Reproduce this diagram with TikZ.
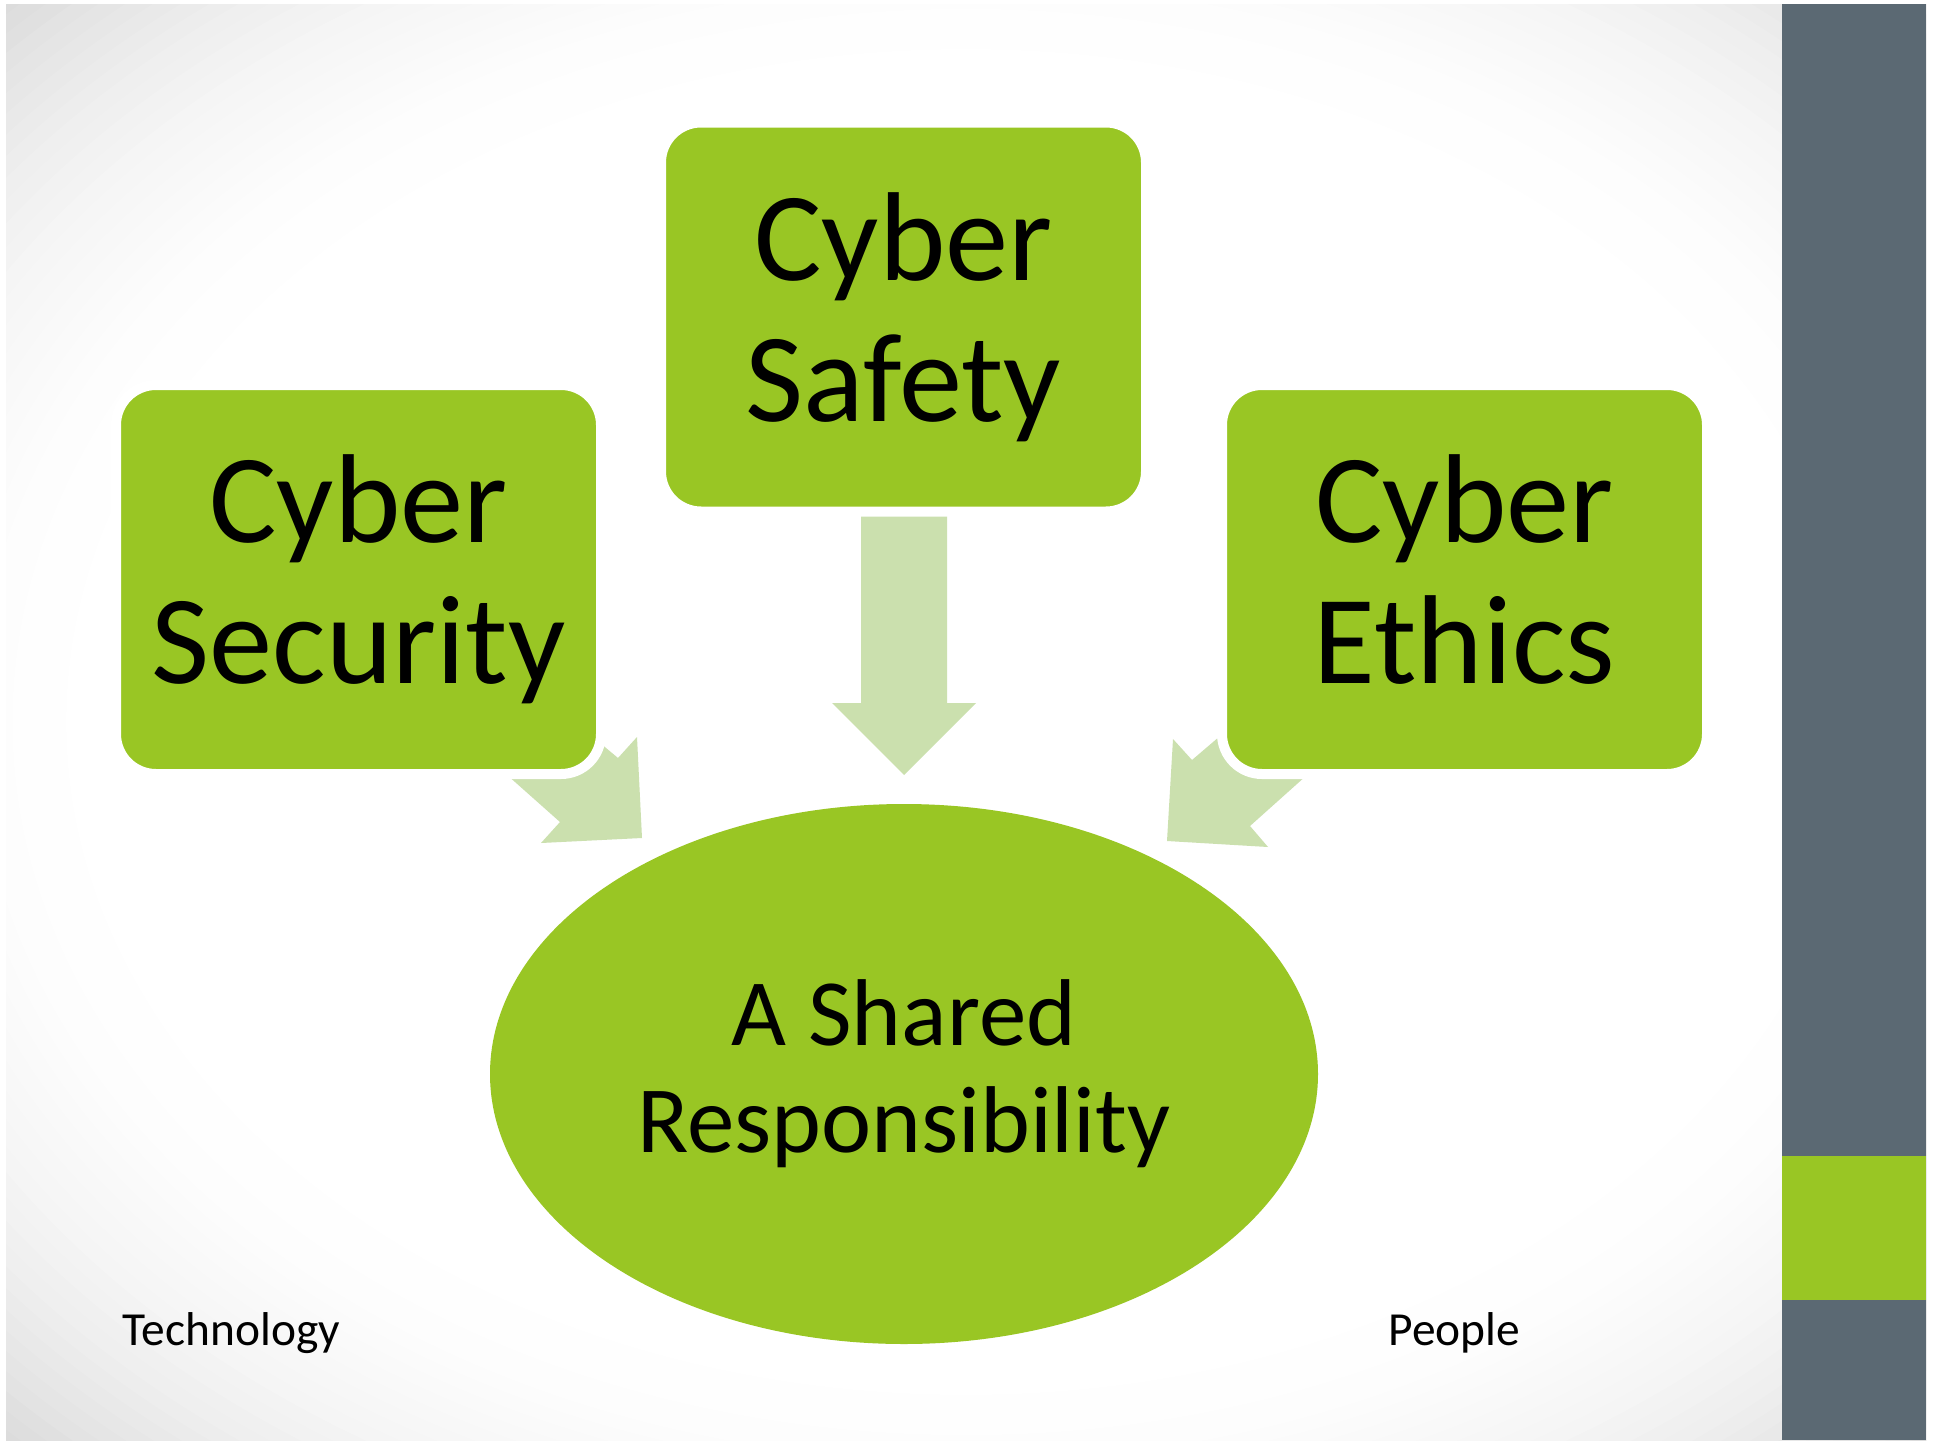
\documentclass[tikz,border=0pt]{standalone}
\usepackage{fontspec}
\setmainfont{Carlito}
\usetikzlibrary{shapes.geometric}

\definecolor{limegreen}{HTML}{99C624}
\definecolor{palegreen}{HTML}{CBE0AE}
\definecolor{slate}{HTML}{5B6973}

\begin{document}
\begin{tikzpicture}[
        x=0.1mm, y=-0.1mm,
        topic/.style={rectangle, rounded corners=4mm, fill=limegreen, draw=white, line width=1mm,
            minimum width=48.5mm, minimum height=38.9mm, inner sep=0pt, align=center,
            font=\fontsize{36}{40}\selectfont,
            execute at begin node={\rule{0pt}{30pt}}, execute at end node={\vphantom{y}}},
        hub/.style={ellipse, fill=limegreen, minimum width=82.8mm, minimum height=54mm,
            inner sep=0pt, align=center, font=\fontsize{27}{30.5}\selectfont,
            execute at begin node={\rule{0pt}{27pt}}},
        blockarrow/.style={fill=palegreen},
        caption/.style={anchor=base west, inner sep=0pt, font=\fontsize{13.5}{16}\selectfont}]
    \useasboundingbox (0,0) rectangle (1938,1442);
    % slide background (soft grey corners) and side bar
    \begin{scope}
        \clip (6,4) rectangle (1926,1440);
        \foreach \k in {0,...,30} {
            \pgfmathsetmacro\rad{1.46-0.56*\k/30}
            \pgfmathsetmacro\tone{16*(1-\k/30)^2}
            \fill[black!\tone] (966,722) ellipse [x radius=960*\rad, y radius=718*\rad];
        }
    \end{scope}
    \fill[slate] (1782,4) rectangle (1926,1440);
    \fill[limegreen] (1782,1156) rectangle (1926,1300);
    % block arrows
    \fill[blockarrow] (470,742) -- (560,822) -- (541,843) -- (642,838) -- (637,737) -- (618,758) -- (575,722) -- cycle;
    \fill[blockarrow] (861,505) -- (861,703) -- (832,703) -- (904,775) -- (976,703) -- (947,703) -- (947,505) -- cycle;
    \fill[blockarrow] (1345,741) -- (1250,826) -- (1268,847) -- (1167,841) -- (1173,739) -- (1192,760) -- (1240,719) -- cycle;
    % boxes
    \node[topic] (security) at (358.5,579.5) {Cyber\\Security};
    \node[topic] (safety) at (903.5,317) {Cyber\\Safety};
    \node[topic] (ethics) at (1464.5,579.5) {Cyber\\Ethics};
    \node[hub] (shared) at (904,1074) {A Shared\\Responsibility};
    \node[caption] (technology) at (122,1345) {Technology};
    \node[caption] (people) at (1388,1345) {People};
\end{tikzpicture}
\end{document}
